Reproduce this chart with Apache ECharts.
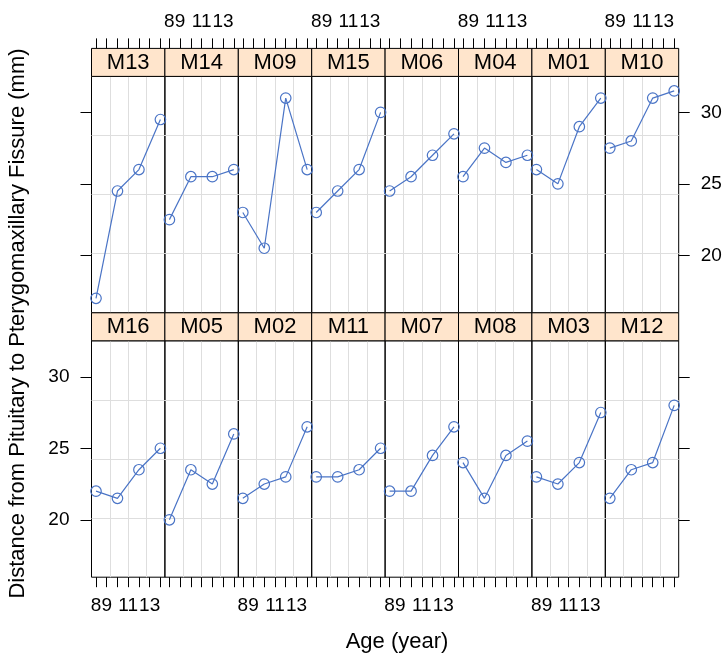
<!DOCTYPE html>
<html>
<head>
<meta charset="utf-8">
<script src="https://cdn.jsdelivr.net/npm/echarts@6/dist/echarts.min.js"></script>
<style>html,body{margin:0;padding:0;background:#fff}#c{width:725px;height:657px}</style>
</head>
<body>
<div id="c"></div>
<script>
// ---- data ----
const ages = [8, 10, 12, 14];
const topRow = ['M13', 'M14', 'M09', 'M15', 'M06', 'M04', 'M01', 'M10'];
const bottomRow = ['M16', 'M05', 'M02', 'M11', 'M07', 'M08', 'M03', 'M12'];
const M01 = [26, 25, 29, 31];
const M02 = [21.5, 22.5, 23, 26.5];
const M03 = [23, 22.5, 24, 27.5];
const M04 = [25.5, 27.5, 26.5, 27];
const M05 = [20, 23.5, 22.5, 26];
const M06 = [24.5, 25.5, 27, 28.5];
const M07 = [22, 22, 24.5, 26.5];
const M08 = [24, 21.5, 24.5, 25.5];
const M09 = [23, 20.5, 31, 26];
const M10 = [27.5, 28, 31, 31.5];
const M11 = [23, 23, 23.5, 25];
const M12 = [21.5, 23.5, 24, 28];
const M13 = [17, 24.5, 26, 29.5];
const M14 = [22.5, 25.5, 25.5, 26];
const M15 = [23, 24.5, 26, 30];
const M16 = [22, 21.5, 23.5, 25];
const xTicks = [8, 9, 10, 11, 12, 13, 14];
const xTickLabels = [8, 9, 11, 13];
const yTicks = [20, 25, 30];

const values = {M01, M02, M03, M04, M05, M06, M07, M08, M09, M10, M11, M12, M13, M14, M15, M16};

// ---- layout ----
const FONT = 'Liberation Sans, Arial, Helvetica, sans-serif';
const BLUE = '#4a74c6';
const GRIDC = '#dedede';
const L = 91.5, W = 73.4, H = 236.4, STRIP = 28;
const stripTop = [48.4, 312.8];
const xMin = 7.58, xMax = 14.42, yMin = 15.985, yMax = 32.515;

const grids = [], xAxes = [], yAxes = [], series = [], graphics = [];
[topRow, bottomRow].forEach((row, r) => {
  row.forEach((name, c) => {
    const g = grids.length;
    const left = L + c * W;
    const top = stripTop[r] + STRIP;
    grids.push({left: left, top: top, width: W, height: H, show: true,
      borderColor: '#000', borderWidth: 1, backgroundColor: 'transparent', containLabel: false});
    xAxes.push({
      gridIndex: g, type: 'value', min: xMin, max: xMax,
      position: r === 0 ? 'top' : 'bottom', offset: r === 0 ? STRIP : 0,
      axisLine: {show: false, onZero: false},
      axisTick: {show: true, length: 10, customValues: xTicks, lineStyle: {color: '#000', width: 1}},
      axisLabel: {show: r === 0 ? c % 2 === 1 : c % 2 === 0, customValues: xTickLabels,
        fontSize: 19, fontFamily: FONT, color: '#000', margin: r === 0 ? 17 : 19},
      splitLine: {show: false}
    });
    xAxes.push({
      gridIndex: g, type: 'value', min: 0, max: 4, interval: 1,
      position: r === 0 ? 'bottom' : 'top',
      axisLine: {show: false, onZero: false}, axisTick: {show: false}, axisLabel: {show: false},
      splitLine: {show: true, showMinLine: false, showMaxLine: false, lineStyle: {color: GRIDC, width: 1}}
    });
    yAxes.push({
      gridIndex: g, type: 'value', min: yMin, max: yMax,
      position: c === 7 ? 'right' : 'left',
      axisLine: {show: false, onZero: false},
      axisTick: {show: c === 0 || c === 7, length: 11, customValues: yTicks, lineStyle: {color: '#000', width: 1}},
      axisLabel: {show: (r === 0 && c === 7) || (r === 1 && c === 0), customValues: yTicks,
        fontSize: 19, fontFamily: FONT, color: '#000', margin: 22},
      splitLine: {show: false}
    });
    yAxes.push({
      gridIndex: g, type: 'value', min: 0, max: 4, interval: 1,
      position: c === 7 ? 'left' : 'right',
      axisLine: {show: false, onZero: false}, axisTick: {show: false}, axisLabel: {show: false},
      splitLine: {show: true, showMinLine: false, showMaxLine: false, lineStyle: {color: GRIDC, width: 1}}
    });
    series.push({
      type: 'line', name: name, xAxisIndex: 2 * g, yAxisIndex: 2 * g,
      data: ages.map((a, i) => [a, values[name][i]]),
      symbol: 'circle', symbolSize: 10.5, clip: false,
      itemStyle: {color: 'transparent', borderColor: BLUE, borderWidth: 1.2},
      lineStyle: {color: BLUE, width: 1.2},
      emphasis: {disabled: true}, silent: true, z: 3
    });
    graphics.push({type: 'rect', shape: {x: left, y: stripTop[r], width: W, height: STRIP},
      style: {fill: '#ffe5cc', stroke: '#000', lineWidth: 1}, z: 10});
    graphics.push({type: 'text', x: left + W / 2, y: stripTop[r] + STRIP / 2 + 0.5,
      style: {text: name, fontSize: 22, fontFamily: FONT, fill: '#000',
        textAlign: 'center', textVerticalAlign: 'middle'}, z: 11});
  });
});
graphics.push({type: 'text', x: 397, y: 642,
  style: {text: 'Age (year)', fontSize: 22, fontFamily: FONT, fill: '#000',
    textAlign: 'center', textVerticalAlign: 'middle'}});
graphics.push({type: 'text', x: 18, y: 323.5, rotation: Math.PI / 2,
  style: {text: 'Distance from Pituitary to Pterygomaxillary Fissure (mm)', fontSize: 22, fontFamily: FONT, fill: '#000',
    textAlign: 'center', textVerticalAlign: 'middle'}});

const chart = echarts.init(document.getElementById('c'), null, {renderer: 'canvas'});
chart.setOption({
  animation: false,
  backgroundColor: '#fff',
  grid: grids, xAxis: xAxes, yAxis: yAxes, series: series, graphic: graphics
});
</script>
</body>
</html>
